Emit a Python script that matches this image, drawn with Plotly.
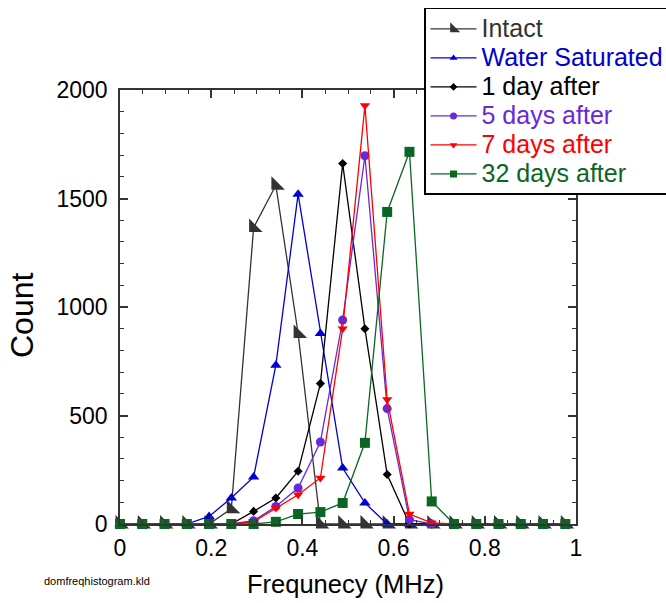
import plotly.graph_objects as go

# Frequency bin centres (MHz)
freq = [0, 0.0488, 0.0977, 0.1465, 0.1953, 0.2441, 0.2930, 0.3418, 0.3906, 0.4395,
        0.4883, 0.5371, 0.5859, 0.6348, 0.6836, 0.7324, 0.7813, 0.8301, 0.8789,
        0.9277, 0.9766]

intact      = [0, 0, 0, 0, 0, 70, 1366, 1561, 878, 0, 0, 0, 0, 0, 0, 0, 0, 0, 0, 0, 0]
water_sat   = [0, 0, 0, 0, 35, 120, 217, 732, 1520, 878, 258, 97, 0, 0, 0, 0, 0, 0, 0, 0, 0]
day1        = [0, 0, 0, 0, 0, 0, 58, 120, 243, 647, 1661, 900, 228, 0, 0, 0, 0, 0, 0, 0, 0]
day5        = [0, 0, 0, 0, 0, 0, 15, 81, 166, 378, 940, 1697, 532, 20, 0, 0, 0, 0, 0, 0, 0]
day7        = [0, 0, 0, 0, 0, 0, 10, 74, 135, 212, 900, 1928, 574, 46, 5, 0, 0, 0, 0, 0, 0]
day32       = [0, 0, 0, 0, 0, 0, 0, 10, 46, 55, 97, 374, 1438, 1715, 104, 0, 0, 0, 0, 0, 0]

names = ["Intact", "Water Saturated", "1 day after", "5 days after", "7 days after", "32 days after"]
series = [intact, water_sat, day1, day5, day7, day32]
colors = ["#333333", "#0000d0", "#000000", "#6a28d8", "#ff0000", "#0b6623"]
symbols = ["triangle-sw", "triangle-up", "diamond", "circle", "triangle-down", "square"]
sizes = [15, 10, 7, 9, 9, 10]
legend_sizes = [11, 7, 6, 7, 7, 7]

xticks = [0, 0.2, 0.4, 0.6, 0.8, 1]
yticks = [0, 500, 1000, 1500, 2000]

FONT = "Liberation Sans, Arial, sans-serif"
AX = "#333333"

fig = go.Figure()
for n, s, c, sym, sz in zip(names, series, colors, symbols, sizes):
    fig.add_trace(go.Scatter(
        x=freq, y=s, mode="lines+markers", name=n, showlegend=False,
        line=dict(color=c, width=1.3),
        marker=dict(symbol=sym, size=sz, color=c),
        cliponaxis=False))
# legend entries (smaller legend symbols)
for n, c, sym, lsz in zip(names, colors, symbols, legend_sizes):
    fig.add_trace(go.Scatter(
        x=[None], y=[None], mode="lines+markers",
        name=f"<span style='font-size:25px;color:{c}'>{n}</span>",
        line=dict(color=c, width=1.3),
        marker=dict(symbol=sym, size=lsz, color=c)))

axis_common = dict(
    ticks="inside", ticklen=8, tickwidth=1.5, tickcolor=AX,
    showline=True, linecolor=AX, linewidth=1.5, mirror="allticks",
    showgrid=False, zeroline=False,
    tickfont=dict(family=FONT, size=23, color="black"),
)

fig.update_xaxes(range=[0, 1], tickvals=xticks, ticklabelstandoff=3,
                 minor=dict(dtick=0.05, tick0=0, ticks="inside", ticklen=4,
                            tickwidth=1.2, tickcolor=AX),
                 **axis_common)
fig.update_yaxes(range=[0, 2000], tickvals=yticks, ticklabelstandoff=6,
                 minor=dict(dtick=100, tick0=0, ticks="inside", ticklen=4,
                            tickwidth=1.2, tickcolor=AX),
                 **axis_common)

fig.add_annotation(text="Count", xref="paper", yref="paper", x=-0.2149, y=0.4816,
                   textangle=-90, showarrow=False, xanchor="center", yanchor="middle",
                   font=dict(family=FONT, size=32, color="black"))
fig.add_annotation(text="Frequnecy (MHz)", xref="paper", yref="paper", x=0.4945, y=-0.138,
                   showarrow=False, xanchor="center", yanchor="middle",
                   font=dict(family=FONT, size=25.5, color="black"))
fig.add_annotation(text="domfreqhistogram.kld", xref="paper", yref="paper", x=-0.0504, y=-0.131,
                   showarrow=False, xanchor="center", yanchor="middle",
                   font=dict(family=FONT, size=11, color="black"))

fig.update_layout(
    width=666, height=603,
    margin=dict(l=120, r=90, t=90, b=79, autoexpand=False),
    paper_bgcolor="white", plot_bgcolor="white",
    font=dict(family=FONT, color="black"),
    legend=dict(x=0.6667, y=1.189, xanchor="left", yanchor="top",
                bgcolor="white", bordercolor="black", borderwidth=1.5,
                font=dict(family=FONT, size=20), itemwidth=46,
                tracegroupgap=0),
)

# remove the default 8px page margin so the figure fills the window exactly
fig.write_html("out.html", config={"displayModeBar": False},
               post_script="document.body.style.margin='0';")
